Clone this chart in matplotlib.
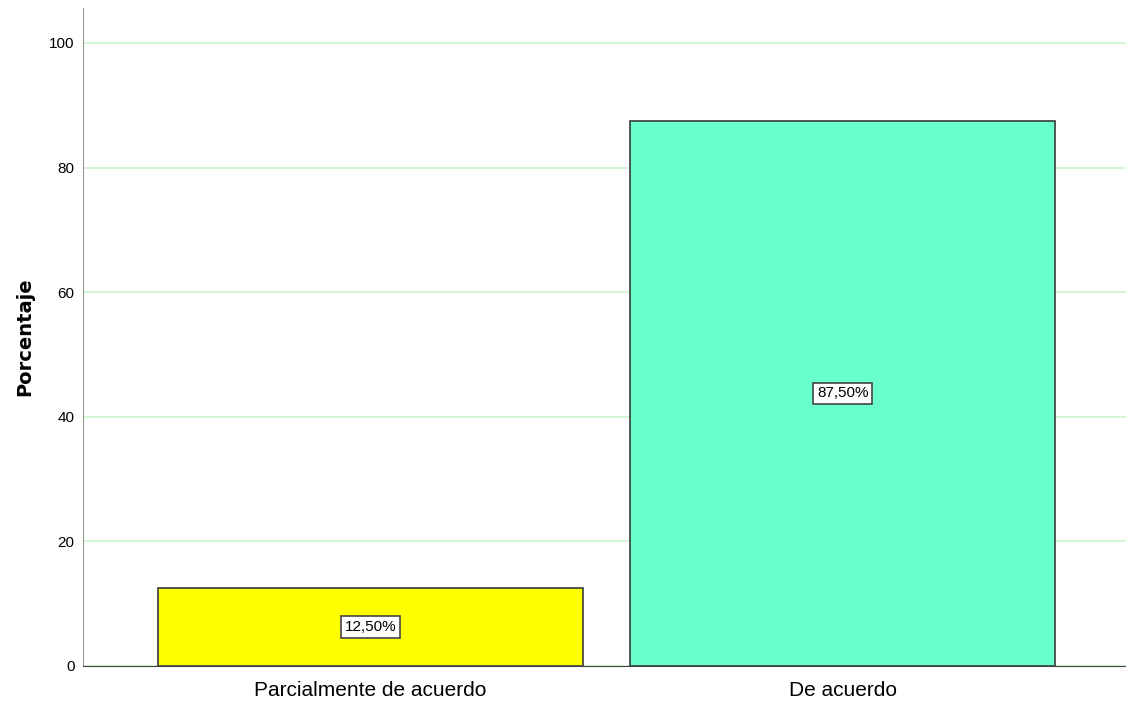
import matplotlib
matplotlib.use('Agg')
import matplotlib.pyplot as plt

# data
categories = ['Parcialmente de acuerdo', 'De acuerdo']
percentages = [12.5, 87.5]
bar_colors = ['#FFFF00', '#68FFCC']
yticks = [0, 20, 40, 60, 80, 100]

narrow = ['Liberation Sans', 'DejaVu Sans']

fig = plt.figure(figsize=(11.26, 7.10), dpi=100)
ax = fig.add_axes([0.0737, 0.062, 0.9263, 0.9267])

ax.set_ylim(0, 105.6)
ax.set_xlim(-0.609, 1.6)
ax.set_yticks(yticks)
ax.yaxis.grid(True, color='#CCF5CC', linewidth=1.2)
ax.set_axisbelow(True)

pos = range(len(categories))
ax.bar(pos, percentages, width=0.9, color=bar_colors,
       edgecolor='#3A3A3A', linewidth=1.2, zorder=3)

for x, v in zip(pos, percentages):
    label = ('%.2f%%' % v).replace('.', ',')
    ax.text(x, v / 2, label, ha='center', va='center', fontsize=11,
            family=narrow, zorder=4,
            bbox=dict(boxstyle='square,pad=0.25', facecolor='white',
                      edgecolor='#444444', linewidth=1.2))

ax.set_xticks(list(pos))
ax.set_xticklabels(categories, fontsize=15, family=narrow)
ax.set_yticklabels([str(t) for t in yticks], fontsize=11, family=narrow)
ax.tick_params(axis='x', length=0, pad=11)
ax.tick_params(axis='y', length=0, pad=6)

ax.set_ylabel('Porcentaje', fontsize=14, fontweight='bold',
              family='DejaVu Sans', labelpad=11)

for s in ['top', 'right']:
    ax.spines[s].set_visible(False)
ax.spines['left'].set_color('#999999')
ax.spines['bottom'].set_color('#444444')

fig.savefig('out.png', dpi=100)
